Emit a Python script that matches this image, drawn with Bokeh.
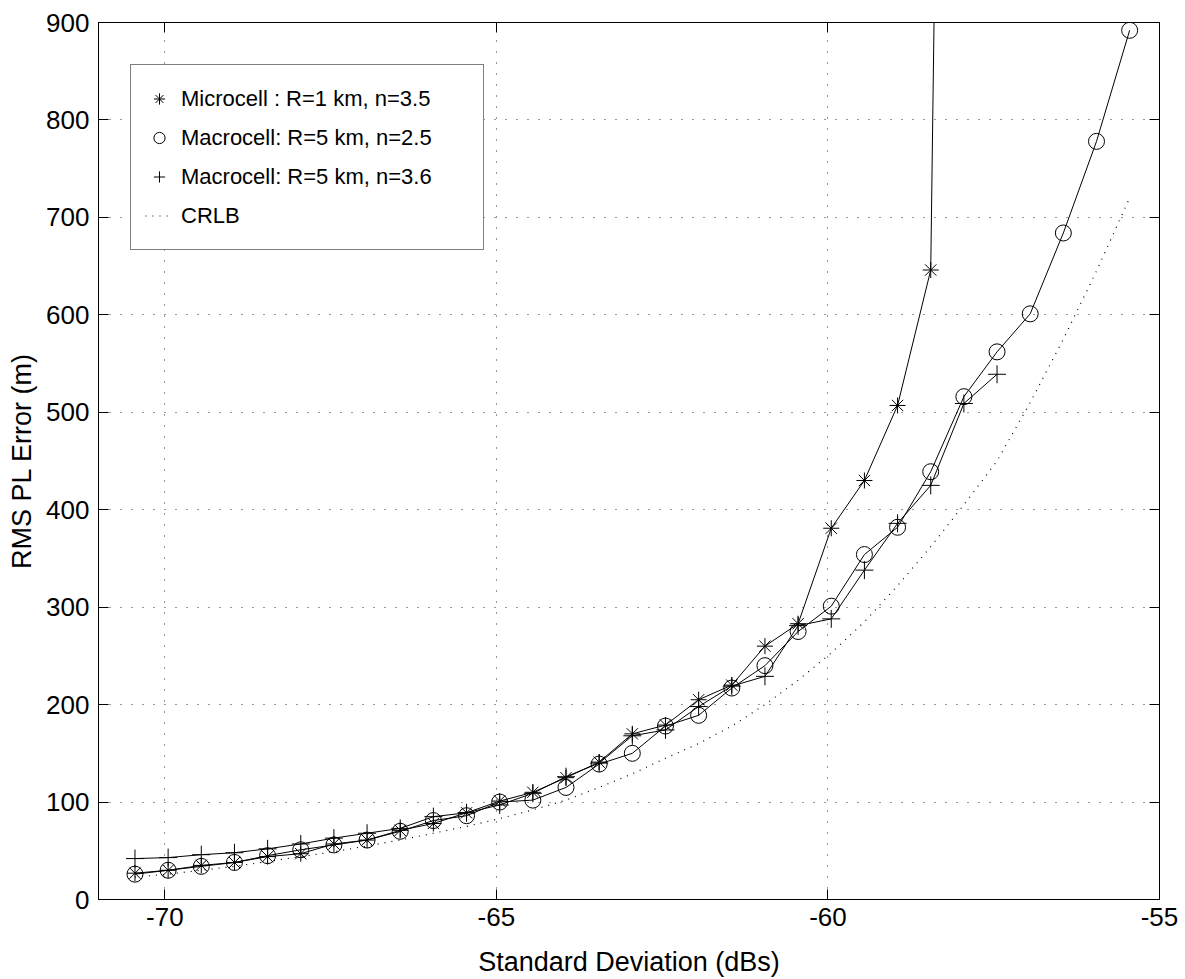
from bokeh.plotting import figure
from bokeh.models import (Range1d, LinearAxis, FixedTicker, Legend, LegendItem,
                          CustomJSTickFormatter)
from bokeh.embed import file_html
from bokeh.resources import INLINE

# ---------------- data ----------------
x_db = [-70.45, -69.95, -69.45, -68.95, -68.45, -67.95, -67.45, -66.95, -66.45, -65.95,
        -65.45, -64.95, -64.45, -63.95, -63.45, -62.95, -62.45, -61.95, -61.45, -60.95,
        -60.45, -59.95, -59.45, -58.95, -58.45, -57.95, -57.45, -56.95, -56.45, -55.95,
        -55.45]

micro_r1_n35 = [27, 30, 35, 38, 44, 47, 57, 61, 71, 78, 89, 101, 110, 125, 141, 170,
                179, 205, 220, 260, 283, 381, 430, 507, 646, 3200]
macro_r5_n25 = [26, 30, 34, 38, 45, 51, 56, 61, 70, 81, 86, 100, 102, 115, 139, 150,
                178, 189, 217, 240, 275, 301, 354, 382, 439, 516, 562, 601, 684, 778, 892]
macro_r5_n36 = [42, 43, 46, 48, 52, 57, 63, 68, 73, 85, 89, 97, 109, 126, 140, 168,
                174, 198, 219, 229, 281, 288, 338, 386, 425, 509, 539]
crlb = [23, 26, 30, 34, 39, 44, 49, 55, 61, 68, 75, 83, 92, 102, 115, 129, 145, 160,
        178, 200, 225, 253, 285, 322, 362, 405, 450, 510, 575, 645, 720]

x_ticks = [-70, -65, -60, -55]
y_ticks = [0, 100, 200, 300, 400, 500, 600, 700, 800, 900]

labels = ["Microcell : R=1 km, n=3.5", "Macrocell: R=5 km, n=2.5",
          "Macrocell: R=5 km, n=3.6", "CRLB"]

FONT = "Liberation Sans"
TICK_FS = "26px"
LABEL_FS = "27px"
LEG_FS = "22px"

p = figure(width=1185, height=979, output_backend="svg", toolbar_location=None,
           x_range=Range1d(-71, -55), y_range=Range1d(0, 900),
           min_border_left=98, min_border_right=26, min_border_top=22,
           min_border_bottom=78, background_fill_color="white",
           border_fill_color="white")
p.outline_line_color = "black"
p.outline_line_width = 1

# axes
for ax in [p.xaxis[0], p.yaxis[0]]:
    ax.major_label_text_font = FONT
    ax.major_label_text_font_size = TICK_FS
    ax.major_label_text_color = "black"
    ax.axis_label_text_font = FONT
    ax.axis_label_text_font_size = LABEL_FS
    ax.axis_label_text_font_style = "normal"
    ax.axis_label_text_color = "black"
    ax.axis_line_color = "black"
    ax.major_tick_line_color = "black"
    ax.major_tick_in = 10
    ax.major_tick_out = 0
    ax.minor_tick_line_color = None

p.xaxis[0].ticker = FixedTicker(ticks=x_ticks)
p.yaxis[0].ticker = FixedTicker(ticks=y_ticks)
p.xaxis[0].formatter = CustomJSTickFormatter(code="return tick.toString()")
p.xaxis[0].axis_label = "Standard Deviation (dBs)"
p.yaxis[0].axis_label = "RMS PL Error (m)"
p.xaxis[0].major_label_standoff = 8
p.yaxis[0].major_label_standoff = 9
p.xaxis[0].axis_label_standoff = 18
p.yaxis[0].axis_label_standoff = 6

blank = CustomJSTickFormatter(code="return ''")
top = LinearAxis(ticker=FixedTicker(ticks=x_ticks), formatter=blank,
                 major_tick_in=10, major_tick_out=0, minor_tick_line_color=None,
                 major_label_text_font_size="1px", major_label_standoff=0,
                 axis_line_color="black", major_tick_line_color="black")
right = LinearAxis(ticker=FixedTicker(ticks=y_ticks), formatter=blank,
                   major_tick_in=10, major_tick_out=0, minor_tick_line_color=None,
                   major_label_text_font_size="1px", major_label_standoff=0,
                   axis_line_color="black", major_tick_line_color="black")
p.add_layout(top, "above")
p.add_layout(right, "right")

# grid
p.xgrid.ticker = FixedTicker(ticks=x_ticks)
p.ygrid.ticker = FixedTicker(ticks=y_ticks)
for g in [p.xgrid[0], p.ygrid[0]]:
    g.grid_line_color = "black"
    g.grid_line_alpha = 0.8
    g.grid_line_dash = "1 10"
    g.grid_line_width = 1

# series
n_m = len(micro_r1_n35)
n_c = len(macro_r5_n36)
p.line(x_db[:n_m], micro_r1_n35, line_color="black", line_width=1)
r_micro = p.scatter(x_db[:n_m], micro_r1_n35, marker="asterisk", size=16,
                    line_color="black", line_width=1)
p.line(x_db, macro_r5_n25, line_color="black", line_width=1)
r_m25 = p.scatter(x_db, macro_r5_n25, marker="circle", size=16, fill_color=None,
                  line_color="black", line_width=1)
p.line(x_db[:n_c], macro_r5_n36, line_color="black", line_width=1)
r_m36 = p.scatter(x_db[:n_c], macro_r5_n36, marker="cross", size=18,
                  line_color="black", line_width=1)
r_crlb = p.line(x_db, crlb, line_color="black", line_width=1.2, line_dash="1 6")

legend = Legend(items=[LegendItem(label=labels[0], renderers=[r_micro]),
                       LegendItem(label=labels[1], renderers=[r_m25]),
                       LegendItem(label=labels[2], renderers=[r_m36]),
                       LegendItem(label=labels[3], renderers=[r_crlb])],
                location=(32, 649))
legend.label_text_font = FONT
legend.label_text_font_size = LEG_FS
legend.label_text_color = "black"
legend.label_height = 39
legend.glyph_height = 39
legend.glyph_width = 28
legend.label_width = 288
legend.spacing = 0
legend.padding = 14
legend.margin = 0
legend.label_standoff = 8
legend.border_line_color = "black"
legend.border_line_width = 1
legend.background_fill_color = "white"
legend.background_fill_alpha = 1
p.add_layout(legend, "center")

open("out.html", "w").write(file_html(p, INLINE))
